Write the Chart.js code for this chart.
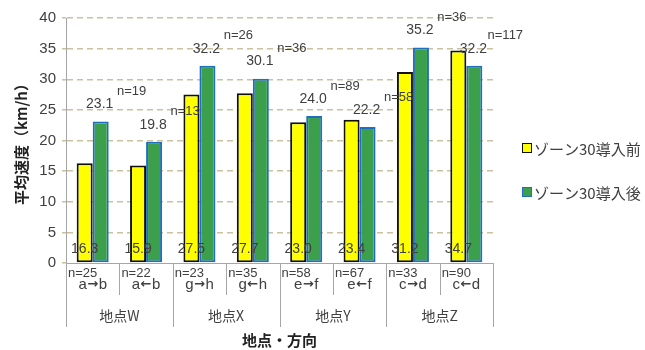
<!DOCTYPE html>
<html>
<head>
<meta charset="utf-8">
<script src="https://cdn.jsdelivr.net/npm/chart.js@4/dist/chart.umd.min.js"></script>
<style>
  html, body { margin: 0; padding: 0; background: #fff; }
  #wrap { width: 645px; height: 350px; }
</style>
</head>
<body>
<div id="wrap"><canvas id="chart"></canvas></div>
<script>
// data
var directions = ['a→b', 'a←b', 'g→h', 'g←h', 'e→f', 'e←f', 'c→d', 'c←d'];
var places = ['地点W', '地点X', '地点Y', '地点Z'];
var seriesNames = ['ゾーン30導入前', 'ゾーン30導入後'];
var speedBefore = [16.3, 15.9, 27.5, 27.7, 23.0, 23.4, 31.2, 34.7];
var speedAfter = [23.1, 19.8, 32.2, 30.1, 24.0, 22.2, 35.2, 32.2];
var countBefore = [25, 22, 23, 35, 58, 67, 33, 90];
var countAfter = [19, 13, 26, 36, 89, 58, 36, 117];
var yTicks = [0, 5, 10, 15, 20, 25, 30, 35, 40];

var FONT = '"Liberation Sans", "Noto Sans CJK JP", sans-serif';
var JP = '"Noto Sans CJK JP", "Liberation Sans", sans-serif';
var colors = {
  yellow: '#ffff00', yellowEdge: '#111111',
  green: '#3c9f4c', greenEdge: '#1f6fc0',
  grid: '#c9c1a0', axis: '#a6a6a6', text: '#404040'
};

// draws "a→b" with a heavier arrow in the middle
function drawDirection(ctx, label, cx, cy) {
  var parts = [label.charAt(0), label.charAt(1), label.charAt(2)];
  var fonts = ['15px ' + FONT, 'bold 13px "DejaVu Sans", sans-serif', '15px ' + FONT];
  var widths = parts.map(function(p, k) { ctx.font = fonts[k]; return ctx.measureText(p).width; });
  var gap = 0.5;
  var total = widths[0] + widths[1] + widths[2] + 2 * gap;
  var x = cx - total / 2;
  ctx.textAlign = 'left';
  parts.forEach(function(p, k) {
    ctx.font = fonts[k];
    ctx.fillText(p, x, cy);
    x += widths[k] + gap;
  });
  ctx.textAlign = 'center';
}

var extras = {
  id: 'extras',
  afterDatasetsDraw: function(chart) {
    var ctx = chart.ctx;
    var ca = chart.chartArea;
    var m0 = chart.getDatasetMeta(0);
    var m1 = chart.getDatasetMeta(1);
    ctx.save();
    ctx.textAlign = 'center';
    ctx.textBaseline = 'middle';
    ctx.fillStyle = colors.text;

    // value labels
    ctx.font = '14px ' + FONT;
    speedBefore.forEach(function(v, i) {
      ctx.fillText(v.toFixed(1), m0.data[i].x, ca.bottom - 14);
    });
    speedAfter.forEach(function(v, i) {
      var b = m1.data[i];
      ctx.fillText(v.toFixed(1), b.x - 1, b.y - 17);
    });
    ctx.font = '13px ' + FONT;
    countAfter.forEach(function(n, i) {
      var b = m1.data[i];
      ctx.fillText('n=' + n, b.x + 31, b.y - 30);
    });

    // multi level category axis
    var w = (ca.right - ca.left) / directions.length;
    ctx.strokeStyle = colors.axis;
    ctx.lineWidth = 1;
    for (var i = 0; i <= directions.length; i++) {
      var ex = Math.round(ca.left + i * w) + 0.5;
      ctx.beginPath();
      ctx.moveTo(ex, ca.bottom);
      ctx.lineTo(ex, ca.bottom + (i % 2 === 0 ? 64 : 32));
      ctx.stroke();
    }
    directions.forEach(function(d, i) {
      var left = ca.left + i * w;
      ctx.font = '13px ' + FONT;
      ctx.textAlign = 'left';
      ctx.fillText('n=' + countBefore[i], left + 2, ca.bottom + 10);
      ctx.textAlign = 'center';
      drawDirection(ctx, d, left + w / 2, ca.bottom + 22);
    });
    ctx.font = '14px ' + JP;
    places.forEach(function(p, i) {
      ctx.fillText(p, ca.left + (i * 2 + 1) * w, ca.bottom + 53);
    });

    // axis titles
    ctx.fillStyle = '#222';
    ctx.font = 'bold 15px ' + JP;
    ctx.fillText('地点・方向', (ca.left + ca.right) / 2, ca.bottom + 77);
    ctx.save();
    ctx.translate(21, (ca.top + ca.bottom) / 2);
    ctx.rotate(-Math.PI / 2);
    ctx.fillText('平均速度（km/h）', 0, 0);
    ctx.restore();

    // legend
    var items = [
      { fill: colors.yellow, edge: colors.yellowEdge, y: 148 },
      { fill: colors.green, edge: colors.greenEdge, y: 192 }
    ];
    ctx.font = '15px ' + JP;
    ctx.textAlign = 'left';
    items.forEach(function(it, k) {
      ctx.fillStyle = it.fill;
      ctx.fillRect(522, it.y - 4.5, 9, 9);
      ctx.strokeStyle = it.edge;
      ctx.lineWidth = 1;
      ctx.strokeRect(522.5, it.y - 4.5, 9, 9);
      ctx.fillStyle = colors.text;
      ctx.fillText(seriesNames[k], 534, it.y + 1);
    });
    ctx.restore();
  }
};

new Chart(document.getElementById('chart'), {
  type: 'bar',
  data: {
    labels: directions,
    datasets: [
      {
        label: seriesNames[0],
        data: speedBefore,
        backgroundColor: colors.yellow,
        borderColor: colors.yellowEdge,
        borderWidth: 2,
        borderSkipped: false
      },
      {
        label: seriesNames[1],
        data: speedAfter,
        backgroundColor: colors.green,
        borderColor: colors.greenEdge,
        borderWidth: 2,
        borderSkipped: false
      }
    ]
  },
  options: {
    responsive: true,
    maintainAspectRatio: false,
    animation: false,
    layout: { padding: { left: 0, top: 18, right: 152, bottom: 0 } },
    datasets: { bar: { categoryPercentage: 0.6, barPercentage: 1.0 } },
    plugins: { legend: { display: false }, tooltip: { enabled: false } },
    scales: {
      x: {
        grid: { display: false },
        ticks: { display: false },
        border: { display: true, color: colors.axis, width: 1 },
        afterFit: function(s) { s.height = 87; }
      },
      y: {
        min: 0,
        max: 40,
        afterBuildTicks: function(s) {
          s.ticks = yTicks.map(function(v) { return { value: v }; });
        },
        afterFit: function(s) { s.width = 66; },
        ticks: { color: colors.text, font: { size: 15, family: FONT }, padding: 6 },
        grid: {
          color: function(c) { return c.tick && c.tick.value === 0 ? 'rgba(0,0,0,0)' : colors.grid; },
          lineWidth: 1.5,
          tickLength: 4,
          tickColor: colors.grid,
          tickBorderDash: [6, 4]
        },
        border: { display: true, color: colors.axis, width: 1, dash: [6, 4] }
      }
    }
  },
  plugins: [extras]
});
</script>
</body>
</html>
